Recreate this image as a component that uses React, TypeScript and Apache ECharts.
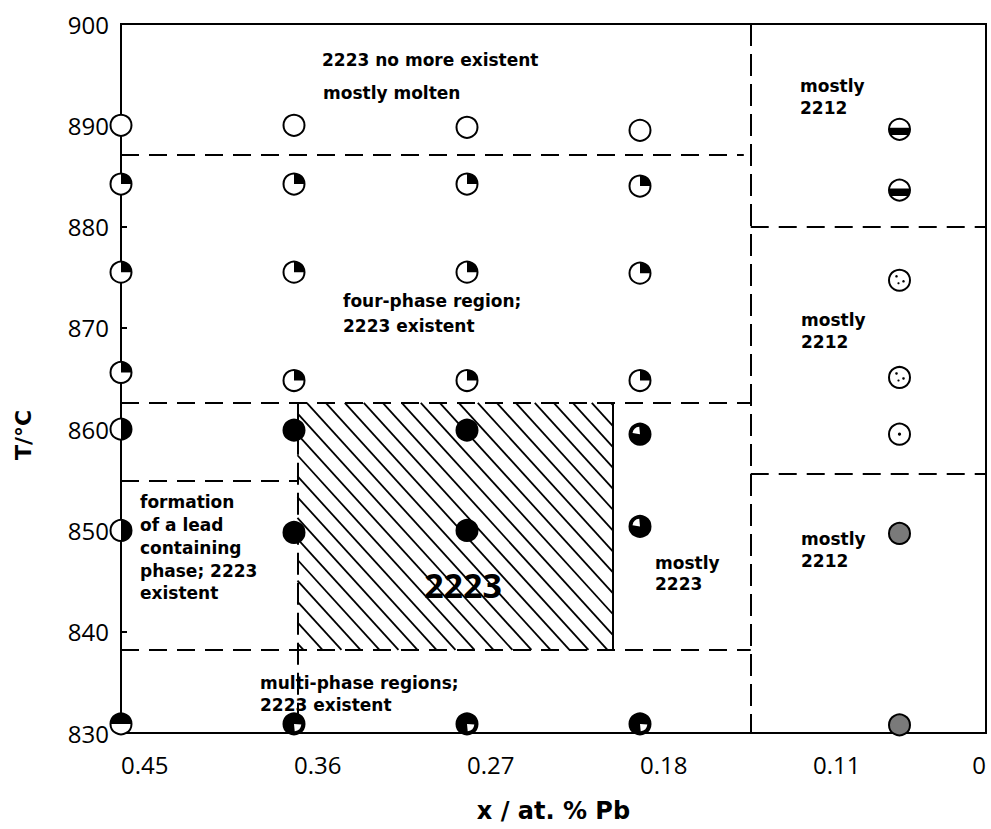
import React, { useEffect, useRef } from 'react';
import * as echarts from 'echarts';

// Composition axis: evenly spaced tick labels (at. % Pb), plotted by column position 0..5
const xTickLabels = ['0.45', '0.36', '0.27', '0.18', '0.11', '0'];

// Column positions of the sample series on that axis
const columnPositions = [0, 1, 2, 3, 4.5];

// Measured temperatures (°C) per column, with the symbol kind used for each sample
const tempsCol045 = [890, 884.2, 875.5, 865.6, 860, 850, 830.9];
const kindsCol045 = ['open', 'quarter', 'quarter', 'quarter', 'halfRight', 'halfRight', 'halfTop'];
const tempsCol036 = [890, 884.2, 875.5, 864.8, 859.9, 849.8, 830.9];
const kindsCol036 = ['open', 'quarter', 'quarter', 'quarter', 'full', 'full', 'threeQuarter'];
const tempsCol027 = [889.8, 884.2, 875.5, 864.8, 859.9, 850, 830.9];
const kindsCol027 = ['open', 'quarter', 'quarter', 'quarter', 'full', 'full', 'threeQuarter'];
const tempsCol018 = [889.5, 884, 875.4, 864.8, 859.5, 850.4, 830.9];
const kindsCol018 = ['open', 'quarter', 'quarter', 'quarter', 'highlight', 'highlight', 'threeQuarter'];
const tempsColLow = [889.6, 883.6, 874.7, 865.1, 859.5, 849.7, 830.8];
const kindsColLow = ['band', 'band', 'dotted', 'dotted', 'centerDot', 'stipple', 'stipple'];

// Phase-region boundaries [ [x1, T1], [x2, T2] ]
const boundaryHorizontal: number[][][] = [
  [[0, 887.1], [3.6, 887.1]],
  [[3.64, 880], [5, 880]],
  [[3.64, 855.6], [5, 855.6]],
  [[0, 862.6], [3.64, 862.6]],
  [[0, 854.9], [1.02, 854.9]],
  [[0, 838.2], [3.64, 838.2]],
];
const boundaryVertical: number[][][] = [
  [[3.64, 900], [3.64, 830]],
  [[1.02, 862.6], [1.02, 830]],
];
const boundarySolid: number[][][] = [
  [[2.844, 862.6], [2.844, 838.2]],
];
// Hatched single-phase 2223 region [x1, Ttop, x2, Tbottom]
const region2223 = [1.02, 862.6, 2.844, 838.2];

// Region annotations
const annotations = [
  '2223 no more existent',
  'mostly molten',
  'mostly\n2212',
  'four-phase region;\n2223 existent',
  'mostly\n2212',
  'mostly\n2212',
  'formation\nof a lead\ncontaining\nphase; 2223\nexistent',
  'mostly\n2223',
  'multi-phase regions;\n2223 existent',
];
const regionLabel = '2223';
const xAxisTitle = 'x / at. % Pb';
const yAxisTitle = 'T/°C';

const allTemps = [tempsCol045, tempsCol036, tempsCol027, tempsCol018, tempsColLow];
const allKinds = [kindsCol045, kindsCol036, kindsCol027, kindsCol018, kindsColLow];
const pointData: number[][] = [];
const pointKinds: string[] = [];
allTemps.forEach((temps, ci) => {
  temps.forEach((t, i) => {
    pointData.push([columnPositions[ci], t]);
    pointKinds.push(allKinds[ci][i]);
  });
});

const BOLD = '"DejaVu Sans", sans-serif';

function markerChildren(kind: string, cx: number, cy: number) {
  const r = 10.5;
  const black = '#000';
  const white = '#fff';
  const ch: any[] = [];
  const disc = (fill: string) => ({ type: 'circle', shape: { cx, cy, r }, style: { fill, stroke: null } });
  const sector = (s: number, e: number, rr: number, fill: string) => ({
    type: 'sector',
    shape: { cx, cy, r0: 0, r: rr, startAngle: s, endAngle: e, clockwise: true },
    style: { fill },
  });
  const dot = (dx: number, dy: number, rr: number, fill = black) => ({
    type: 'circle', shape: { cx: cx + dx, cy: cy + dy, r: rr }, style: { fill },
  });
  const P = Math.PI;
  switch (kind) {
    case 'open':
      ch.push(disc(white));
      break;
    case 'quarter':
      ch.push(disc(white), sector(-P / 2, 0, r, black));
      break;
    case 'full':
      ch.push(disc(black));
      break;
    case 'halfRight':
      ch.push(disc(white), sector(-P / 2, P / 2, r, black));
      break;
    case 'halfTop':
      ch.push(disc(white), sector(P, 2 * P, r, black));
      break;
    case 'threeQuarter':
      ch.push(disc(black), sector(0.1, P / 2 - 0.1, r * 0.7, white));
      break;
    case 'highlight':
      ch.push(disc(black), sector(P + 0.15, 1.5 * P - 0.1, r * 0.72, white));
      break;
    case 'band': {
      ch.push(disc(white));
      const pts: number[][] = [];
      const y0 = -1.5;
      const y1 = r * 0.55;
      const n = 8;
      for (let i = 0; i <= n; i++) {
        const yy = y0 + ((y1 - y0) * i) / n;
        pts.push([cx + Math.sqrt(r * r - yy * yy), cy + yy]);
      }
      for (let i = n; i >= 0; i--) {
        const yy = y0 + ((y1 - y0) * i) / n;
        pts.push([cx - Math.sqrt(r * r - yy * yy), cy + yy]);
      }
      ch.push({ type: 'polygon', shape: { points: pts }, style: { fill: black } });
      break;
    }
    case 'dotted':
      ch.push(disc(white), dot(-3, -4, 1.3), dot(4, 1, 1.3), dot(-1, 3, 1.1));
      break;
    case 'centerDot':
      ch.push(disc(white), dot(0, 0, 1.6));
      break;
    case 'stipple': {
      ch.push(disc('#7a7a7a'));
      for (let gx = -8; gx <= 8; gx += 3) {
        for (let gy = -8; gy <= 8; gy += 3) {
          const ox = gx + ((gy / 3) % 2 === 0 ? 0 : 1.5);
          if (ox * ox + gy * gy < 72) ch.push(dot(ox, gy, 0.9, white));
        }
      }
      break;
    }
    default:
      ch.push(disc(white));
  }
  ch.push({ type: 'circle', shape: { cx, cy, r }, style: { fill: null, stroke: black, lineWidth: 2 } });
  return ch;
}

export default function App() {
  const ref = useRef<HTMLDivElement>(null);

  useEffect(() => {
    if (!ref.current) return;
    const chart = echarts.init(ref.current, null, { renderer: 'svg' });

    const lineItems = [
      ...boundaryHorizontal.map((c) => ({ coords: c, lineStyle: { type: [18, 10] } })),
      ...boundaryVertical.map((c) => ({ coords: c, lineStyle: { type: [22, 8] } })),
      ...boundarySolid.map((c) => ({ coords: c, lineStyle: { type: 'solid' } })),
    ];

    const textStyle = (font: string) => ({ fill: '#000', font });
    const ann = (i: number, x: number, top: number, lh: number) => ({
      type: 'text',
      x,
      y: top,
      z: 100,
      style: { ...textStyle(`bold 17px ${BOLD}`), text: annotations[i], lineHeight: lh, textVerticalAlign: 'top' },
    });

    const option: any = {
      animation: false,
      backgroundColor: '#fff',
      grid: {
        left: 121,
        right: 5,
        top: 24,
        bottom: 96,
        show: true,
        borderColor: '#000',
        borderWidth: 2,
        backgroundColor: 'transparent',
        containLabel: false,
        outerBoundsMode: 'none',
      },
      xAxis: {
        type: 'value',
        min: 0,
        max: 5,
        interval: 1,
        name: xAxisTitle,
        nameLocation: 'middle',
        nameGap: 66,
        nameTextStyle: { fontFamily: BOLD, fontWeight: 'bold', fontSize: 24, color: '#000' },
        axisLine: { show: true, lineStyle: { color: '#000', width: 2 } },
        axisTick: { show: false },
        splitLine: { show: false },
        axisLabel: {
          formatter: (v: number) => xTickLabels[Math.round(v)] ?? '',
          align: 'left',
          alignMaxLabel: 'right',
          margin: 19,
          fontFamily: '"Open Sans", sans-serif',
          fontSize: 24,
          color: '#000',
        },
      },
      yAxis: {
        type: 'value',
        min: 830,
        max: 900,
        interval: 10,
        axisLine: { show: true, lineStyle: { color: '#000', width: 2 } },
        axisTick: { show: true, inside: true, length: 6, lineStyle: { color: '#000', width: 2 } },
        splitLine: { show: false },
        axisLabel: {
          margin: 12,
          fontFamily: '"Open Sans", sans-serif',
          fontSize: 24,
          color: '#000',
        },
      },
      series: [
        {
          type: 'custom',
          name: 'hatch',
          z: 1,
          silent: true,
          dimensions: ['x1', 'y1', 'x2', 'y2'],
          encode: { x: [0, 2], y: [1, 3] },
          data: [region2223],
          renderItem: (params: any, api: any) => {
            const p1 = api.coord([api.value(0), api.value(1)]);
            const p2 = api.coord([api.value(2), api.value(3)]);
            const L = p1[0], T = p1[1], R = p2[0], B = p2[1];
            const H = B - T;
            const m = 1.1;
            const step = 19;
            const children: any[] = [];
            for (let c = L - H / m + 6; c < R; c += step) {
              const xs = Math.max(c, L);
              const xe = Math.min(c + H / m, R);
              if (xe - xs < 0.5) continue;
              children.push({
                type: 'line',
                shape: { x1: xs, y1: T + m * (xs - c), x2: xe, y2: T + m * (xe - c) },
                style: { stroke: '#000', lineWidth: 1.8 },
              });
            }
            return { type: 'group', children };
          },
        },
        {
          type: 'lines',
          name: 'boundaries',
          coordinateSystem: 'cartesian2d',
          z: 2,
          silent: true,
          symbol: 'none',
          lineStyle: { color: '#000', width: 2, opacity: 1, curveness: 0 },
          data: lineItems,
        },
        {
          type: 'custom',
          name: 'samples',
          z: 3,
          silent: true,
          dimensions: ['x', 'T'],
          encode: { x: 0, y: 1 },
          data: pointData,
          renderItem: (params: any, api: any) => {
            const p = api.coord([api.value(0), api.value(1)]);
            return { type: 'group', children: markerChildren(pointKinds[params.dataIndex], p[0], p[1]) };
          },
        },
      ],
      graphic: [
        {
          type: 'text', x: 322, y: 60, z: 100,
          style: { ...textStyle(`bold 17px ${BOLD}`), text: annotations[0], textVerticalAlign: 'middle' },
        },
        {
          type: 'text', x: 323, y: 93, z: 100,
          style: { ...textStyle(`bold 17px ${BOLD}`), text: annotations[1], textVerticalAlign: 'middle' },
        },
        ann(2, 800, 75, 22),
        ann(3, 343, 288, 25),
        ann(4, 801, 309, 22),
        ann(5, 801, 528, 22),
        ann(6, 140, 491, 22.75),
        ann(7, 655, 552, 21),
        ann(8, 260, 672, 22),
        {
          type: 'text', x: 463, y: 585, z: 100,
          style: {
            ...textStyle('bold 34px "Open Sans", sans-serif'),
            text: regionLabel, textAlign: 'center', textVerticalAlign: 'middle',
          },
        },
        {
          type: 'text', x: 23, y: 435, z: 100, rotation: Math.PI / 2,
          style: {
            ...textStyle(`bold 22px ${BOLD}`),
            text: yAxisTitle, textAlign: 'center', textVerticalAlign: 'middle',
          },
        },
      ],
    };

    chart.setOption(option);
    return () => chart.dispose();
  }, []);

  return (
    <div
      ref={ref}
      style={{ position: 'fixed', left: 0, top: 0, width: 991, height: 829, background: '#fff' }}
    />
  );
}
